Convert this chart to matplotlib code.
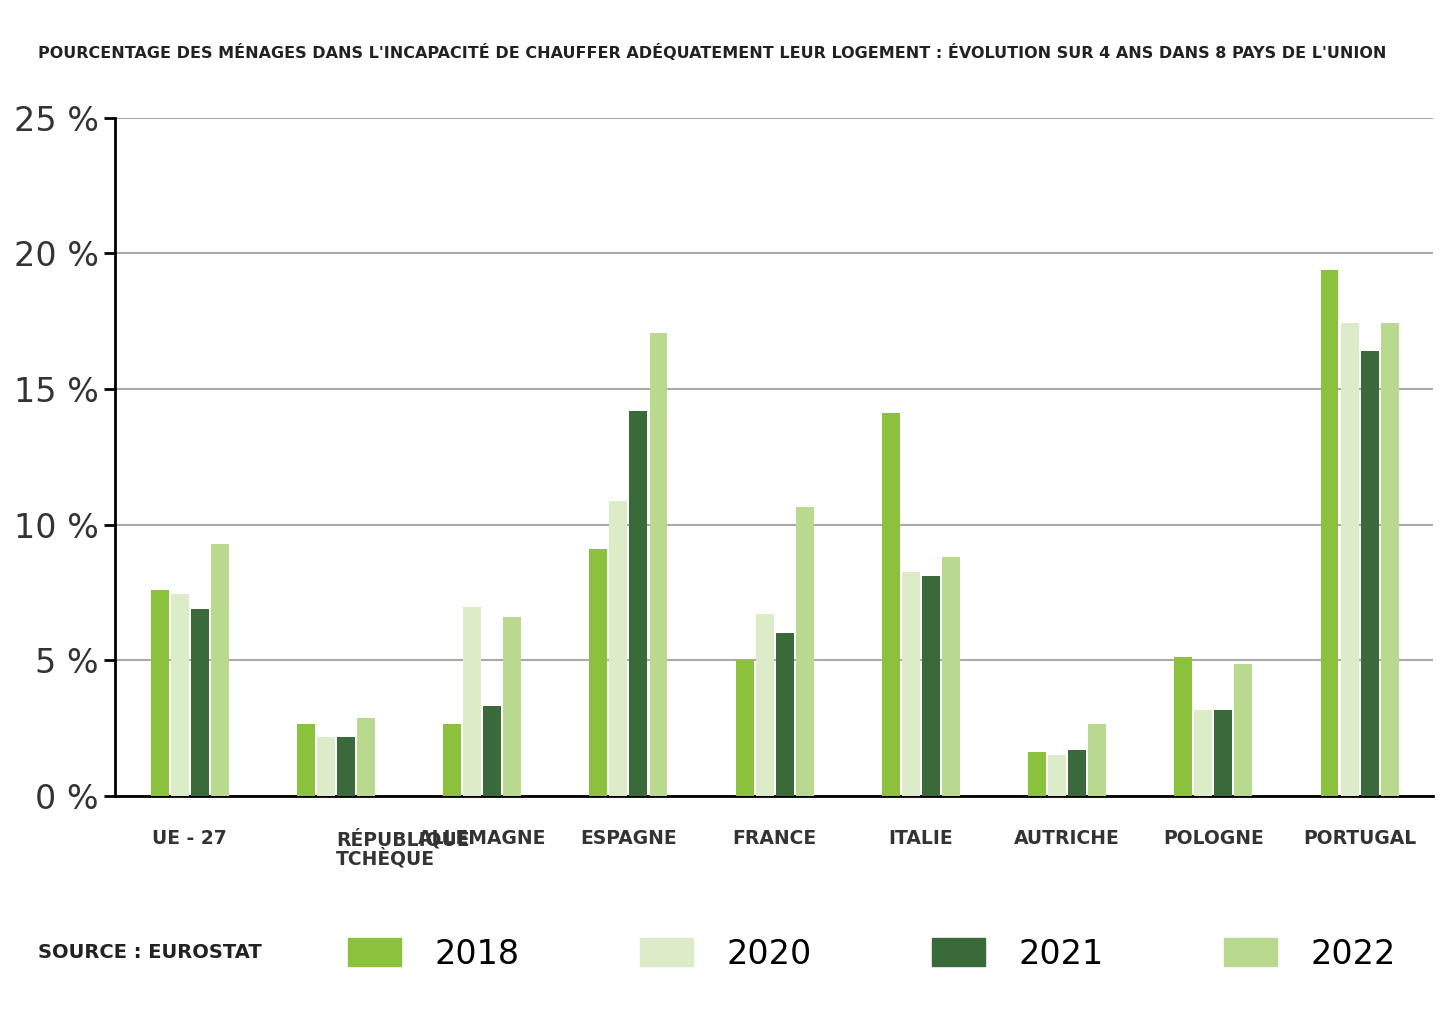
import numpy as np
import matplotlib.pyplot as plt
from matplotlib.patches import Patch

countries = ["UE - 27", "RÉPUBLIQUE\nTCHÈQUE", "ALLEMAGNE", "ESPAGNE", "FRANCE",
             "ITALIE", "AUTRICHE", "POLOGNE", "PORTUGAL"]
years = ["2018", "2020", "2021", "2022"]
v2018 = [7.6, 2.65, 2.65, 9.1, 5.0, 14.1, 1.6, 5.1, 19.4]
v2020 = [7.45, 2.15, 6.95, 10.85, 6.7, 8.25, 1.5, 3.15, 17.45]
v2021 = [6.9, 2.15, 3.3, 14.2, 6.0, 8.1, 1.7, 3.15, 16.4]
v2022 = [9.3, 2.85, 6.6, 17.05, 10.65, 8.8, 2.65, 4.85, 17.45]
colors = ["#8cc13e", "#dcebc8", "#3b6a3a", "#b9da8e"]
narrow = ["Liberation Sans Narrow", "DejaVu Sans"]

fig = plt.figure(figsize=(14.53, 10.15), dpi=100)
ax = fig.add_axes([0.079, 0.216, 0.907, 0.668])
x = np.arange(len(countries))
w = 0.123
step = 0.137
for i, vals in enumerate([v2018, v2020, v2021, v2022]):
    ax.bar(x + (i - 1.5) * step, vals, w, color=colors[i], zorder=3)

ax.set_xlim(-0.513, 8.5)
ax.set_ylim(0, 25)
ax.set_yticks([0, 5, 10, 15, 20, 25])
ax.set_yticklabels([f"{t} %" for t in [0, 5, 10, 15, 20, 25]], fontsize=24,
                   color="#333333", family=narrow)
ax.yaxis.grid(True, color="#aaaaaa", linewidth=1.5, zorder=0)
for s in ["top", "right"]:
    ax.spines[s].set_visible(False)
ax.spines["left"].set_linewidth(2)
ax.spines["bottom"].set_linewidth(2)
ax.tick_params(axis="y", length=8, width=2)
ax.tick_params(axis="x", length=0, pad=24)
ax.set_xticks(x)
ax.set_xticklabels(countries, fontsize=13.5, fontweight="bold", color="#333333",
                   va="top", linespacing=0.9)
labs = ax.get_xticklabels()
labs[1].set_x(0.65)
labs[1].set_horizontalalignment("left")

fig.text(0.026, 0.948,
         "POURCENTAGE DES MÉNAGES DANS L'INCAPACITÉ DE CHAUFFER ADÉQUATEMENT LEUR LOGEMENT : "
         "ÉVOLUTION SUR 4 ANS DANS 8 PAYS DE L'UNION",
         fontsize=11.5, fontweight="bold", color="#222222", va="center")
fig.text(0.026, 0.062, "SOURCE : EUROSTAT", fontsize=14, fontweight="bold",
         color="#222222", va="center")
handles = [Patch(color=c) for c in colors]
fig.legend(handles, years, loc="center", bbox_to_anchor=(0.6, 0.06), ncol=4,
           frameon=False, prop={"family": narrow, "size": 24}, handlelength=1.6,
           handleheight=0.9, columnspacing=3.6, handletextpad=1.0)

fig.savefig("out.png", dpi=100)
